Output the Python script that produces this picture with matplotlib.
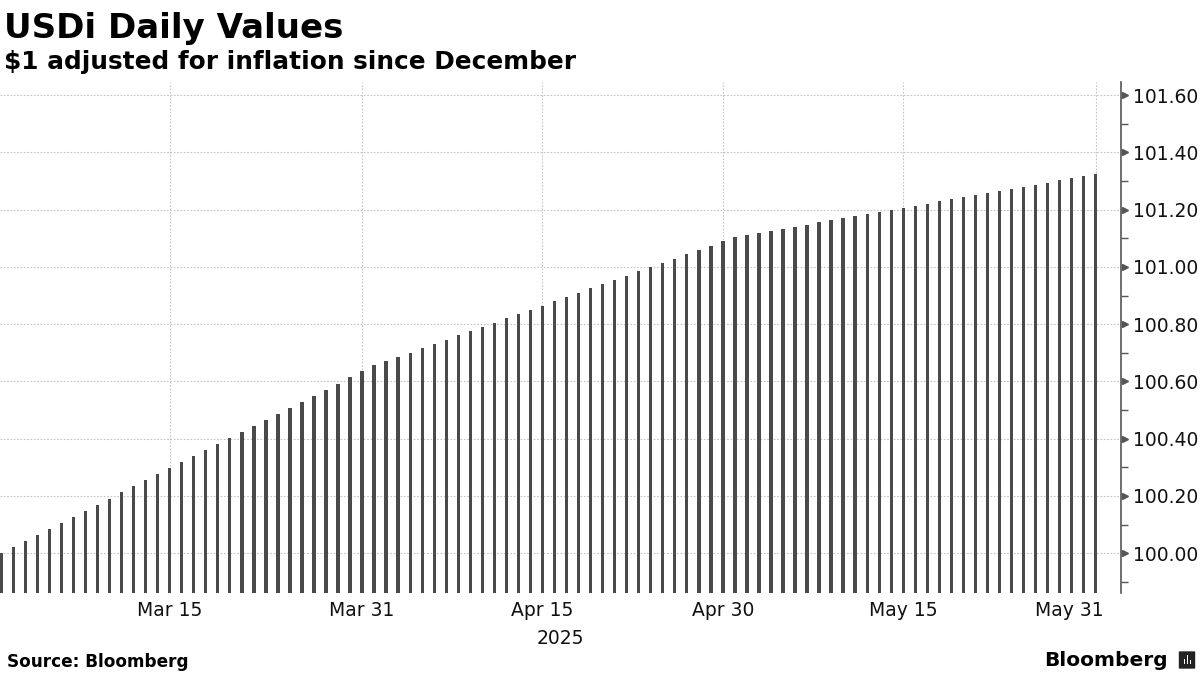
import numpy as np
import pandas as pd
import matplotlib
matplotlib.use("Agg")
import matplotlib.pyplot as plt
import matplotlib.transforms as mtransforms
from matplotlib.patches import FancyBboxPatch

# === Data ===
start_date = "2025-03-01"
usdi_values = [
    # March
    100.000, 100.021, 100.042, 100.063, 100.084, 100.105, 100.126, 100.147,
    100.168, 100.188, 100.214, 100.235, 100.256, 100.277, 100.298, 100.319,
    100.340, 100.361, 100.381, 100.402, 100.423, 100.444, 100.465, 100.486,
    100.507, 100.528, 100.549, 100.570, 100.591, 100.615, 100.637,
    # April
    100.657, 100.671, 100.685, 100.699, 100.717, 100.730, 100.744, 100.762,
    100.776, 100.790, 100.804, 100.821, 100.835, 100.849, 100.863, 100.881,
    100.894, 100.908, 100.926, 100.940, 100.954, 100.968, 100.985, 100.999,
    101.013, 101.027, 101.045, 101.059, 101.073, 101.090,
    # May
    101.104, 101.111, 101.118, 101.125, 101.132, 101.139, 101.146, 101.156,
    101.163, 101.170, 101.177, 101.184, 101.191, 101.198, 101.205, 101.212,
    101.219, 101.230, 101.237, 101.244, 101.250, 101.257, 101.264, 101.271,
    101.278, 101.285, 101.292, 101.303, 101.310, 101.317, 101.324,
]
dates = pd.date_range(start_date, periods=len(usdi_values), freq="D")

x_ticks = ["2025-03-15", "2025-03-31", "2025-04-15", "2025-04-30", "2025-05-15", "2025-05-31"]
x_tick_labels = ["Mar 15", "Mar 31", "Apr 15", "Apr 30", "May 15", "May 31"]
y_ticks = [100.00, 100.20, 100.40, 100.60, 100.80, 101.00, 101.20, 101.40, 101.60]

# === Style ===
bar_color = "#4a4a4a"
grid_color = "#c4c4c4"
axis_color = "#555555"
y_lo, y_hi = 99.861, 101.646

fig = plt.figure(figsize=(12, 6.75), dpi=100)
ax = fig.add_axes([0.0, 1 - 593 / 675, 1120.7 / 1200, (593 - 82) / 675])

values = np.array(usdi_values)
ax.bar(dates, values - 99.0, bottom=99.0, width=0.28, color=bar_color, zorder=3)

ax.set_xlim(dates[0] - pd.Timedelta(days=0.11), dates[-1] + pd.Timedelta(days=2.08))
ax.set_ylim(y_lo, y_hi)

# y axis on the right
ax.yaxis.tick_right()
ax.set_yticks(y_ticks)
ax.set_yticklabels([f"{v:.2f}" for v in y_ticks], fontsize=13.5)
ax.set_yticks(np.arange(99.9, 101.65, 0.2), minor=True)
ax.tick_params(axis="y", which="major", length=0, pad=9, labelcolor="#111111")
ax.tick_params(axis="y", which="minor", length=5, width=1, color=axis_color, direction="out")
ax.plot([1.004] * len(y_ticks), y_ticks, ls="", marker=">", ms=5, color=axis_color,
        transform=ax.get_yaxis_transform(), clip_on=False, zorder=5)

# x axis
tick_dates = pd.to_datetime(x_ticks)
ax.set_xticks(tick_dates)
ax.set_xticklabels(x_tick_labels, fontsize=13.5)
ax.tick_params(axis="x", length=0, pad=6, labelcolor="#111111")
last = ax.get_xticklabels()[-1]
last.set_transform(last.get_transform() + mtransforms.ScaledTranslation(-26 / 100, 0, fig.dpi_scale_trans))
ax.text(0.5, -0.07, "2025", transform=ax.transAxes, ha="center", va="top", fontsize=13.5, color="#111111")

# grid
ax.grid(True, axis="both", color=grid_color, linestyle=(0, (1.5, 1.5)), linewidth=0.8, zorder=0)
for side in ["top", "left", "bottom"]:
    ax.spines[side].set_visible(False)
ax.spines["right"].set_color(axis_color)
ax.spines["right"].set_linewidth(1.2)

# === Titles and footer ===
fig.text(0.003, 1 - 38 / 675, "USDi Daily Values", fontsize=24.5, fontweight="bold", ha="left", va="baseline")
fig.text(0.003, 1 - 69 / 675, "$1 adjusted for inflation since December", fontsize=17.8,
         fontweight="bold", ha="left", va="baseline")
fig.text(0.006, 1 - 662 / 675, "Source: Bloomberg", fontsize=12.2, fontweight="bold", ha="left", va="center")
fig.text(1168 / 1200, 1 - 660 / 675, "Bloomberg", fontsize=14.5, fontweight="bold", ha="right", va="center")

# small logo mark
logo = FancyBboxPatch((1180 / 1200, 1 - 668 / 675), 14 / 1200, 16 / 675,
                      boxstyle="round,pad=0.001", transform=fig.transFigure,
                      facecolor="#222222", edgecolor="none")
fig.patches.append(logo)
for i, h in enumerate([5, 9, 4]):
    fig.patches.append(plt.Rectangle(((1183.5 + i * 3) / 1200, 1 - 664 / 675), 1.6 / 1200, h / 675,
                                     transform=fig.transFigure, facecolor="white", edgecolor="none"))

fig.savefig("out.png", dpi=100)
